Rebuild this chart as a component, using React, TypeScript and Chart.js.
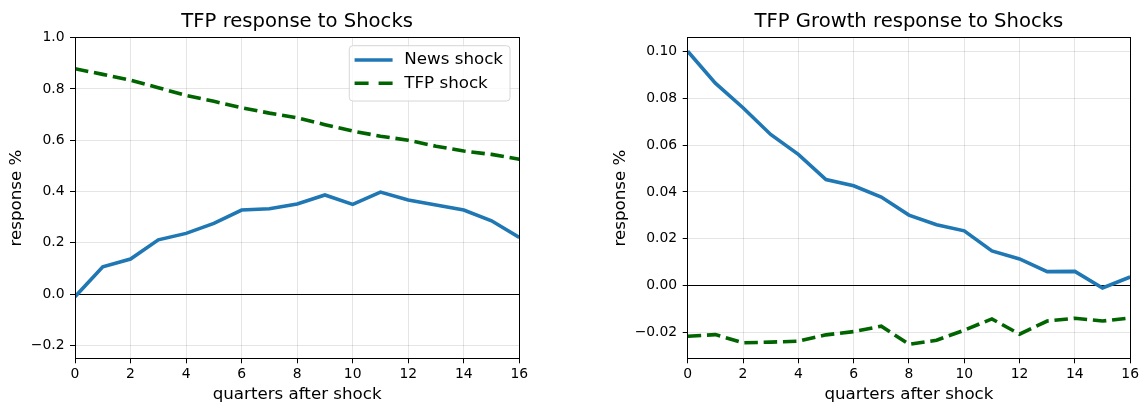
import React, { useEffect, useRef } from "react";
import { Chart, registerables } from "chart.js";

Chart.register(...registerables);

// ---------------- data ----------------
const quarters = [0, 1, 2, 3, 4, 5, 6, 7, 8, 9, 10, 11, 12, 13, 14, 15, 16];
const xTickValues = [0, 2, 4, 6, 8, 10, 12, 14, 16];

const newsShockTfp = [-0.01, 0.107, 0.137, 0.212, 0.237, 0.276, 0.328, 0.333, 0.352, 0.387, 0.35, 0.398, 0.367, 0.348, 0.328, 0.286, 0.221];
const tfpShockTfp = [0.879, 0.857, 0.834, 0.805, 0.775, 0.752, 0.727, 0.706, 0.688, 0.661, 0.636, 0.616, 0.6, 0.577, 0.558, 0.545, 0.526];

const newsShockGrowth = [0.1, 0.0864, 0.0759, 0.0645, 0.056, 0.0453, 0.0426, 0.0378, 0.0301, 0.026, 0.0234, 0.0148, 0.0114, 0.006, 0.0061, -0.001, 0.0037];
const tfpShockGrowth = [-0.0216, -0.0209, -0.0244, -0.0241, -0.0237, -0.021, -0.0196, -0.0173, -0.025, -0.0233, -0.019, -0.0142, -0.0207, -0.0151, -0.0139, -0.0151, -0.0138];

const yTicksLevel = [-0.2, 0, 0.2, 0.4, 0.6, 0.8, 1.0];
const yTicksGrowth = [-0.02, 0, 0.02, 0.04, 0.06, 0.08, 0.1];

const seriesLabels = ["News shock", "TFP shock"];
const titles = ["TFP response to Shocks", "TFP Growth response to Shocks"];
const xTitle = "quarters after shock";
const yTitle = "response %";

// ---------------- styling ----------------
const FAMILY = "'DejaVu Sans', sans-serif";
const BLUE = "#1f77b4";
const GREEN = "#006400";
const GRID = "rgba(0,0,0,0.1)";
const LINE_W = 3.6;
const DASH = [13.5, 5.8];
const LEGEND_DASH = [14, 10];
const CANVAS_H = 430;
const AREA_TOP = 37.7;
const AREA_BOTTOM = 358.3;
const TITLE_SIZE = 19.6;
const LABEL_SIZE = 16.7;
const TICK_SIZE = 13.9;

function fmt(v: number, d: number) {
  const s = Math.abs(v).toFixed(d);
  return v < -1e-12 ? "\u2212" + s : s;
}

const framePlugin = {
  id: "frame",
  afterDatasetsDraw(chart: any) {
    const { ctx, chartArea: a } = chart;
    const al = (p: number) => Math.round(p - 0.5) + 0.5;
    ctx.save();
    ctx.strokeStyle = "#000";
    ctx.lineWidth = 1;
    const l = al(a.left), r = al(a.right), t = al(a.top), b = al(a.bottom);
    ctx.strokeRect(l, t, r - l, b - t);
    ctx.restore();
  },
};

const boxLegendPlugin = {
  id: "boxLegend",
  afterDraw(chart: any, _args: any, opts: any) {
    if (!opts || !opts.show) return;
    const { ctx, chartArea: a } = chart;
    const ds = chart.data.datasets;
    ctx.save();
    ctx.font = `${LABEL_SIZE}px ${FAMILY}`;
    let maxW = 0;
    ds.forEach((d: any) => (maxW = Math.max(maxW, ctx.measureText(d.label).width)));
    const padL = 5.3, handle = 38, gap = 11.7, padR = 7;
    const w = padL + handle + gap + maxW + padR;
    const h = 55.3;
    const x = a.right - 9.3 - w;
    const y = a.top + 8;
    const rad = 3.5;
    ctx.beginPath();
    ctx.moveTo(x + rad, y);
    ctx.lineTo(x + w - rad, y);
    ctx.arcTo(x + w, y, x + w, y + rad, rad);
    ctx.lineTo(x + w, y + h - rad);
    ctx.arcTo(x + w, y + h, x + w - rad, y + h, rad);
    ctx.lineTo(x + rad, y + h);
    ctx.arcTo(x, y + h, x, y + h - rad, rad);
    ctx.lineTo(x, y + rad);
    ctx.arcTo(x, y, x + rad, y, rad);
    ctx.closePath();
    ctx.fillStyle = "rgba(255,255,255,0.8)";
    ctx.fill();
    ctx.strokeStyle = "#d6d6d6";
    ctx.lineWidth = 1;
    ctx.stroke();
    ds.forEach((d: any, i: number) => {
      const cy = y + 14.3 + i * 23.3;
      ctx.beginPath();
      ctx.setLineDash(d.borderDash ? LEGEND_DASH : []);
      ctx.lineDashOffset = 0;
      ctx.strokeStyle = d.borderColor;
      ctx.lineWidth = d.borderWidth;
      ctx.lineCap = "butt";
      ctx.moveTo(x + padL, cy);
      ctx.lineTo(x + padL + handle, cy);
      ctx.stroke();
      ctx.setLineDash([]);
      ctx.fillStyle = "#000";
      ctx.textBaseline = "middle";
      ctx.textAlign = "left";
      ctx.fillText(d.label, x + padL + handle + gap, cy);
    });
    ctx.restore();
  },
};

type Spec = {
  title: string;
  news: number[];
  tfp: number[];
  yMin: number;
  yMax: number;
  yTicks: number[];
  decimals: number;
  canvasW: number;
  yAxisWidth: number;
  padRight: number;
  yTitlePad: number;
  legend: boolean;
};

function makeConfig(s: Spec): any {
  const toPts = (vals: number[]) => quarters.map((q, i) => ({ x: q, y: vals[i] }));
  return {
    type: "line",
    data: {
      datasets: [
        {
          label: seriesLabels[0],
          data: toPts(s.news),
          borderColor: BLUE,
          backgroundColor: BLUE,
          borderWidth: LINE_W,
          pointRadius: 0,
          fill: false,
          tension: 0,
          clip: 0,
        },
        {
          label: seriesLabels[1],
          data: toPts(s.tfp),
          borderColor: GREEN,
          backgroundColor: GREEN,
          borderWidth: LINE_W,
          borderDash: DASH,
          pointRadius: 0,
          fill: false,
          tension: 0,
          clip: 0,
        },
      ],
    },
    options: {
      animation: false,
      responsive: false,
      maintainAspectRatio: false,
      devicePixelRatio: 1,
      events: [],
      layout: { padding: { left: 0, right: s.padRight, top: 0, bottom: 0 } },
      plugins: {
        legend: { display: false },
        tooltip: { enabled: false },
        title: {
          display: true,
          text: s.title,
          fullSize: false,
          color: "#000",
          font: { family: FAMILY, size: TITLE_SIZE, weight: "normal" },
          padding: { top: 10.5, bottom: AREA_TOP - 10.5 - TITLE_SIZE * 1.2 },
        },
        boxLegend: { show: s.legend },
      },
      scales: {
        x: {
          type: "linear",
          min: quarters[0],
          max: quarters[quarters.length - 1],
          afterBuildTicks: (sc: any) => {
            sc.ticks = xTickValues.map((v) => ({ value: v }));
          },
          afterFit: (sc: any) => {
            sc.height = CANVAS_H - AREA_BOTTOM;
          },
          border: { display: false },
          grid: { color: GRID, lineWidth: 1, tickColor: "#000", tickLength: 5, tickWidth: 1 },
          ticks: {
            color: "#000",
            font: { family: FAMILY, size: TICK_SIZE },
            padding: 3,
            maxRotation: 0,
            autoSkip: false,
            callback: (v: any) => String(v),
          },
          title: {
            display: true,
            text: xTitle,
            color: "#000",
            font: { family: FAMILY, size: LABEL_SIZE },
            padding: { top: 0, bottom: 25 },
          },
        },
        y: {
          type: "linear",
          min: s.yMin,
          max: s.yMax,
          afterBuildTicks: (sc: any) => {
            sc.ticks = s.yTicks.map((v) => ({ value: v }));
          },
          afterFit: (sc: any) => {
            sc.width = s.yAxisWidth;
          },
          border: { display: false },
          grid: {
            color: (c: any) => (c.tick && Math.abs(c.tick.value) < 1e-12 ? "#000" : GRID),
            lineWidth: 1,
            tickColor: "#000",
            tickLength: 5,
            tickWidth: 1,
          },
          ticks: {
            color: "#000",
            font: { family: FAMILY, size: TICK_SIZE },
            padding: 5.5,
            autoSkip: false,
            callback: (v: any) => fmt(Number(v), s.decimals),
          },
          title: {
            display: true,
            text: yTitle,
            color: "#000",
            font: { family: FAMILY, size: LABEL_SIZE },
            padding: { top: s.yTitlePad, bottom: 0 },
          },
        },
      },
    },
    plugins: [framePlugin, boxLegendPlugin],
  };
}

function Panel({ spec, left }: { spec: Spec; left: number }) {
  const ref = useRef<HTMLCanvasElement>(null);
  useEffect(() => {
    const chart = new Chart(ref.current as HTMLCanvasElement, makeConfig(spec));
    return () => chart.destroy();
  }, []);
  return (
    <canvas
      ref={ref}
      width={spec.canvasW}
      height={CANVAS_H}
      style={{ position: "absolute", left, top: 0, width: spec.canvasW, height: CANVAS_H }}
    />
  );
}

const leftSpec: Spec = {
  title: titles[0],
  news: newsShockTfp,
  tfp: tfpShockTfp,
  yMin: -0.25,
  yMax: 1.0,
  yTicks: yTicksLevel,
  decimals: 1,
  canvasW: 570,
  yAxisWidth: 75,
  padRight: 570 - 519.3,
  yTitlePad: 7,
  legend: true,
};

const rightSpec: Spec = {
  title: titles[1],
  news: newsShockGrowth,
  tfp: tfpShockGrowth,
  yMin: -0.031,
  yMax: 0.1058,
  yTicks: yTicksGrowth,
  decimals: 2,
  canvasW: 542,
  yAxisWidth: 87.7,
  padRight: 542 - 531.7,
  yTitlePad: 10.8,
  legend: false,
};

export default function App() {
  return (
    <div
      style={{
        position: "absolute",
        left: 0,
        top: 0,
        width: 1142,
        height: 403,
        overflow: "hidden",
        background: "#fff",
      }}
    >
      <Panel spec={leftSpec} left={0} />
      <Panel spec={rightSpec} left={600} />
    </div>
  );
}
